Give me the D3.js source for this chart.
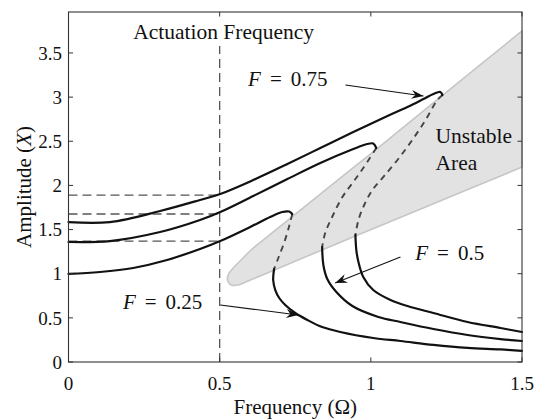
<!DOCTYPE html>
<html>
<head>
<meta charset="utf-8">
<script src="https://cdn.jsdelivr.net/npm/d3@7"></script>
<style>
  html, body { margin: 0; padding: 0; background: #fff; }
  svg { display: block; }
  svg text { font-family: "Liberation Serif", "DejaVu Serif", "Times New Roman", serif; }
</style>
</head>
<body>
<svg id="chart" width="535" height="420" font-family="Liberation Serif, DejaVu Serif, serif"></svg>
<script>
// Frequency-response curves (Omega, X) for three forcing levels.
// Each curve: stable upper branch, unstable middle branch, stable lower branch.
const f25Upper = [[0,0.997],[0.104,1.019],[0.214,1.065],[0.326,1.155],[0.435,1.28],[0.502,1.37],[0.601,1.529],[0.667,1.642],[0.707,1.699],[0.73,1.704],[0.74,1.676]];
const f25Middle = [[0.74,1.676],[0.73,1.54],[0.714,1.359],[0.694,1.178],[0.68,1.053]];
const f25Lower = [[0.68,1.053],[0.677,0.929],[0.684,0.815],[0.697,0.725],[0.717,0.646],[0.75,0.555],[0.79,0.476],[0.839,0.396],[0.899,0.34],[1.008,0.272],[1.098,0.238],[1.207,0.193],[1.32,0.159],[1.429,0.142],[1.5,0.125]];

const f50Upper = [[0,1.359],[0.137,1.37],[0.303,1.472],[0.435,1.608],[0.502,1.699],[0.611,1.88],[0.724,2.072],[0.833,2.254],[0.942,2.412],[0.988,2.469],[1.008,2.475],[1.018,2.424]];
const f50Middle = [[1.018,2.424],[0.975,2.197],[0.942,2.039],[0.906,1.869],[0.872,1.642],[0.849,1.461],[0.839,1.302]];
const f50Lower = [[0.839,1.302],[0.843,1.099],[0.856,0.94],[0.886,0.793],[0.939,0.634],[1.025,0.51],[1.098,0.453],[1.207,0.374],[1.32,0.306],[1.429,0.26],[1.5,0.238]];

const f75Upper = [[0,1.585],[0.137,1.585],[0.303,1.71],[0.435,1.835],[0.502,1.903],[0.611,2.061],[0.724,2.242],[0.833,2.424],[0.942,2.605],[1.055,2.786],[1.121,2.888],[1.174,2.978],[1.207,3.035],[1.23,3.058],[1.237,3.024]];
const f75Middle = [[1.237,3.024],[1.22,2.967],[1.181,2.741],[1.137,2.514],[1.088,2.288],[1.041,2.095],[1.005,1.948],[0.978,1.778],[0.959,1.608],[0.949,1.438]];
const f75Lower = [[0.949,1.438],[0.952,1.268],[0.959,1.133],[0.975,0.963],[1.008,0.815],[1.065,0.702],[1.121,0.634],[1.207,0.555],[1.32,0.453],[1.429,0.385],[1.5,0.34]];

// Boundary of the unstable region (lower edge right-to-left, round tip, upper edge left-to-right)
const unstableBoundary = [[1.5,2.208],[1.197,1.778],[0.949,1.427],[0.767,1.166],[0.634,0.974],[0.594,0.917],[0.561,0.872],[0.538,0.872],[0.527,0.917],[0.528,0.985],[0.545,1.065],[0.574,1.166],[0.611,1.291],[0.657,1.416],[0.767,1.721],[1.015,2.401],[1.23,3.001],[1.5,3.749]];

const actuationFrequency = 0.5;
const actuationAmplitudes = [1.37, 1.676, 1.891];

// Axis ticks
const omegaTicks = [0, 0.5, 1, 1.5];
const omegaTickLabels = ["0", "0.5", "1", "1.5"];
const ampTicks = [0, 0.5, 1, 1.5, 2, 2.5, 3, 3.5];
const ampTickLabels = ["0", "0.5", "1", "1.5", "2", "2.5", "3", "3.5"];

// Force-level annotations: label anchor, arrow start, arrow tip (data units)
const forceLabels = ["0.25", "0.5", "0.75"];
const labelAnchors = [[0.18, 0.6], [1.147, 1.155], [0.594, 3.126]];
const arrowStarts = [[0.502, 0.646], [1.098, 1.189], [0.916, 3.137]];
const arrowTips = [[0.76, 0.532], [0.882, 0.895], [1.174, 3.012]];

const serif = "Liberation Serif, DejaVu Serif, Times New Roman, serif";
const svg = d3.select("#chart");
const margin = { left: 68.5, right: 522, top: 12, bottom: 362 };
const x = d3.scaleLinear().domain([0, 1.5]).range([margin.left, margin.right]);
const y = d3.scaleLinear().domain([0, 3.964]).range([margin.bottom, margin.top]);

const line = d3.line().x(d => x(d[0])).y(d => y(d[1])).curve(d3.curveCatmullRom.alpha(0.5));

// Unstable region
svg.append("path")
  .attr("d", line(unstableBoundary) + "Z")
  .attr("fill", "#e2e2e2")
  .attr("stroke", "#c6c6c6")
  .attr("stroke-width", 1.6);

// Reference lines at the actuation frequency
svg.append("line")
  .attr("x1", x(actuationFrequency)).attr("x2", x(actuationFrequency))
  .attr("y1", y(0)).attr("y2", y(3.58))
  .attr("stroke", "#555").attr("stroke-width", 1.3).attr("stroke-dasharray", "9,5");

svg.selectAll("line.amp")
  .data(actuationAmplitudes)
  .join("line")
  .attr("class", "amp")
  .attr("x1", x(0)).attr("x2", x(actuationFrequency))
  .attr("y1", d => y(d)).attr("y2", d => y(d))
  .attr("stroke", "#555").attr("stroke-width", 1.3).attr("stroke-dasharray", "9,5");

// Response curves
const stable = [f25Upper, f25Lower, f50Upper, f50Lower, f75Upper, f75Lower];
const unstable = [f25Middle, f50Middle, f75Middle];

svg.selectAll("path.unstable")
  .data(unstable)
  .join("path")
  .attr("class", "unstable")
  .attr("d", line)
  .attr("fill", "none")
  .attr("stroke", "#444")
  .attr("stroke-width", 1.9)
  .attr("stroke-dasharray", "6,5");

svg.selectAll("path.stable")
  .data(stable)
  .join("path")
  .attr("class", "stable")
  .attr("d", line)
  .attr("fill", "none")
  .attr("stroke", "#111")
  .attr("stroke-width", 2.2)
  .attr("stroke-linecap", "round");

// Arrows
function arrow(from, to) {
  const x0 = x(from[0]), y0 = y(from[1]), x1 = x(to[0]), y1 = y(to[1]);
  const ang = Math.atan2(y1 - y0, x1 - x0) * 180 / Math.PI;
  svg.append("line")
    .attr("x1", x0).attr("y1", y0).attr("x2", x1).attr("y2", y1)
    .attr("stroke", "#111").attr("stroke-width", 1.1);
  svg.append("path")
    .attr("d", "M0,0 L-12,-4.5 L-8,0 L-12,4.5 Z")
    .attr("transform", `translate(${x1},${y1}) rotate(${ang})`)
    .attr("fill", "#111");
}
forceLabels.forEach((lab, i) => {
  arrow(arrowStarts[i], arrowTips[i]);
  const t = svg.append("text")
    .attr("x", x(labelAnchors[i][0]))
    .attr("y", y(labelAnchors[i][1]))
    .attr("font-family", serif)
    .attr("font-size", 21)
    .attr("fill", "#111");
  t.append("tspan").attr("font-style", "italic").text("F");
  t.append("tspan").attr("dx", 9).text("=");
  t.append("tspan").attr("dx", 9).text(lab);
});

// Region and line labels
svg.append("text")
  .attr("x", x(actuationFrequency) + 4).attr("y", 39)
  .attr("text-anchor", "middle").attr("font-family", serif).attr("font-size", 21.5).attr("fill", "#111")
  .text("Actuation Frequency");

const ua = svg.append("text")
  .attr("x", x(1.214)).attr("y", y(2.475))
  .attr("font-family", serif).attr("font-size", 21.5).attr("fill", "#111");
ua.append("tspan").text("Unstable");
ua.append("tspan").attr("x", x(1.214)).attr("dy", 27).text("Area");

// Axes frame and ticks (ticks inside, on all four sides)
const frame = svg.append("g");
frame.append("rect")
  .attr("x", margin.left).attr("y", margin.top)
  .attr("width", margin.right - margin.left).attr("height", margin.bottom - margin.top)
  .attr("fill", "none").attr("stroke", "#333").attr("stroke-width", 1.1);

const tl = 4.5;
omegaTicks.forEach(v => {
  frame.append("line").attr("x1", x(v)).attr("x2", x(v)).attr("y1", margin.bottom).attr("y2", margin.bottom - tl).attr("stroke", "#333");
  frame.append("line").attr("x1", x(v)).attr("x2", x(v)).attr("y1", margin.top).attr("y2", margin.top + tl).attr("stroke", "#333");
});
ampTicks.forEach(v => {
  frame.append("line").attr("x1", margin.left).attr("x2", margin.left + tl).attr("y1", y(v)).attr("y2", y(v)).attr("stroke", "#333");
  frame.append("line").attr("x1", margin.right).attr("x2", margin.right - tl).attr("y1", y(v)).attr("y2", y(v)).attr("stroke", "#333");
});

svg.selectAll("text.xt")
  .data(omegaTicks)
  .join("text")
  .attr("class", "xt")
  .attr("x", d => x(d)).attr("y", 390)
  .attr("text-anchor", "middle").attr("font-family", serif).attr("font-size", 19).attr("fill", "#111")
  .text((d, i) => omegaTickLabels[i]);

svg.selectAll("text.yt")
  .data(ampTicks)
  .join("text")
  .attr("class", "yt")
  .attr("x", 62).attr("y", d => y(d))
  .attr("dy", "0.35em")
  .attr("text-anchor", "end").attr("font-family", serif).attr("font-size", 19).attr("fill", "#111")
  .text((d, i) => ampTickLabels[i]);

// Axis titles
svg.append("text")
  .attr("x", (margin.left + margin.right) / 2).attr("y", 414)
  .attr("text-anchor", "middle").attr("font-family", serif).attr("font-size", 21).attr("fill", "#111")
  .text("Frequency (Ω)");

const yl = svg.append("text")
  .attr("transform", `translate(31,${(margin.top + margin.bottom) / 2}) rotate(-90)`)
  .attr("text-anchor", "middle").attr("font-family", serif).attr("font-size", 21).attr("fill", "#111");
yl.append("tspan").text("Amplitude (");
yl.append("tspan").attr("font-style", "italic").text("X");
yl.append("tspan").text(")");
</script>
</body>
</html>
